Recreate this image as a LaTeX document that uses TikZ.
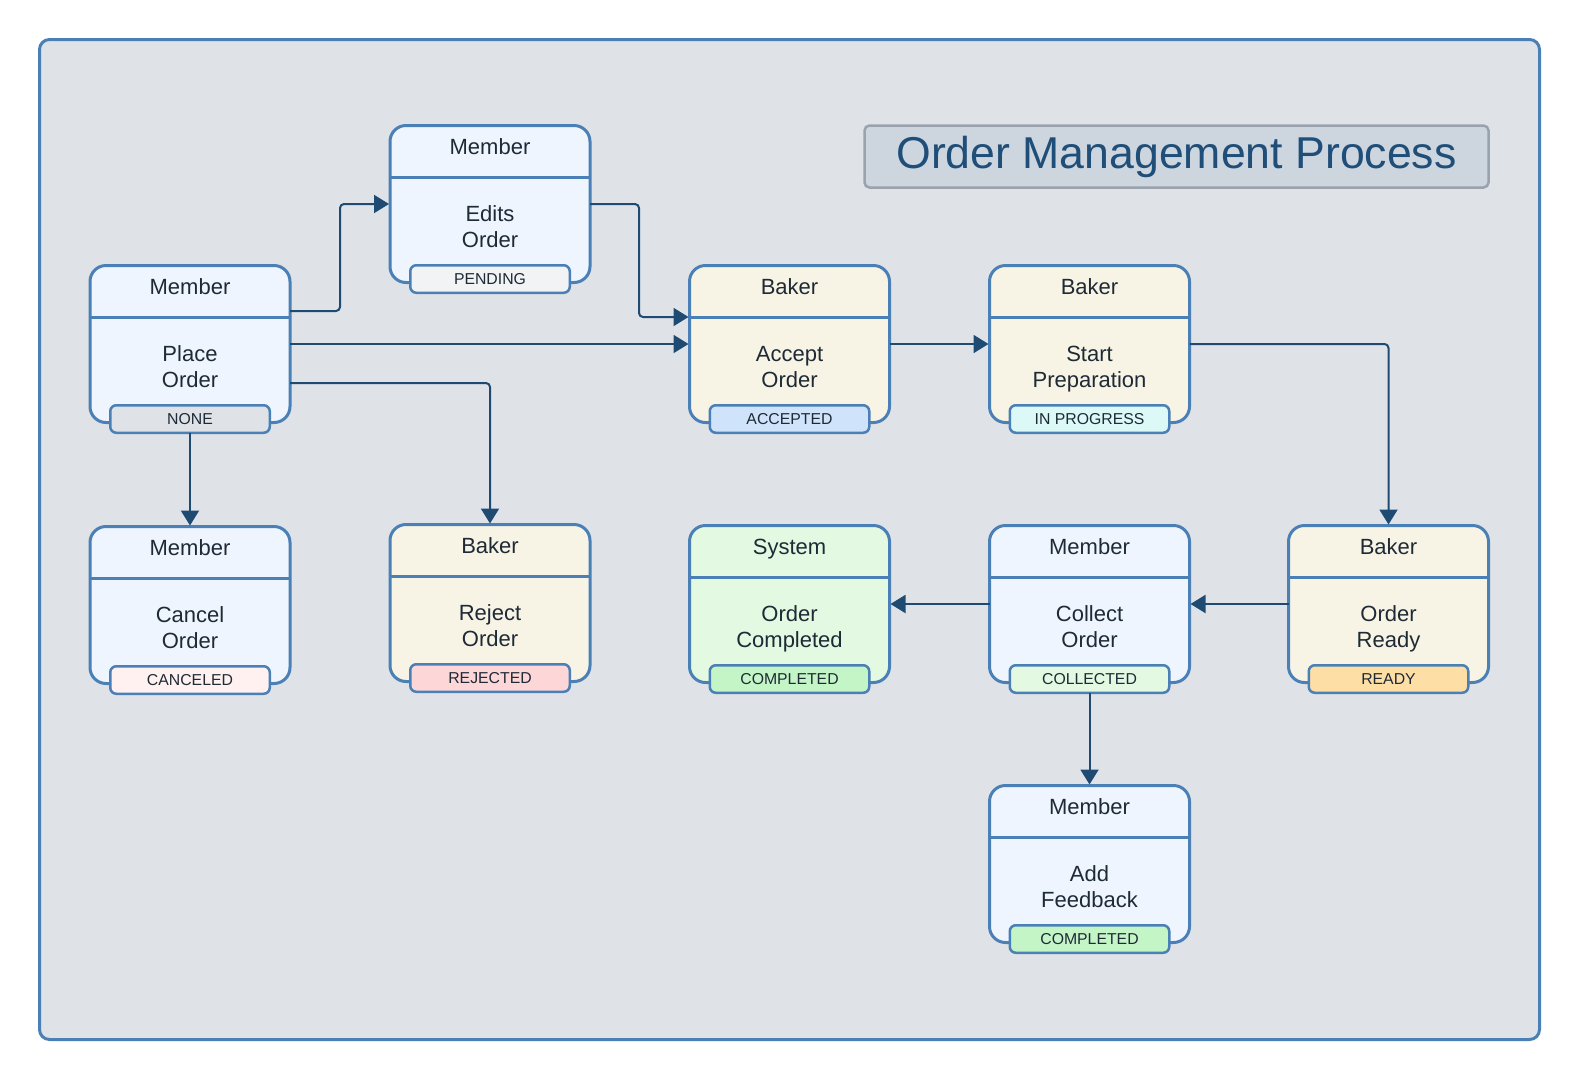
\documentclass[tikz,border=0pt]{standalone}
\usepackage{fontspec}
\setmainfont{Liberation Sans}
\usetikzlibrary{arrows.meta,calc}
\definecolor{framefill}{HTML}{DFE3E8}
\definecolor{frameline}{HTML}{4A80B5}
\definecolor{cardline}{HTML}{4A80B5}
\definecolor{memberfill}{HTML}{EEF5FE}
\definecolor{bakerfill}{HTML}{F7F4E5}
\definecolor{systemfill}{HTML}{E3F9E2}
\definecolor{txt}{HTML}{1E2A36}
\definecolor{connc}{HTML}{1F4B73}
\definecolor{titlefill}{HTML}{CDD5DE}
\definecolor{titleline}{HTML}{9AA3AD}
\definecolor{titletext}{HTML}{1F4E79}
\definecolor{bnone}{HTML}{DFE3E8}
\definecolor{bpending}{HTML}{F1F3F5}
\definecolor{baccepted}{HTML}{CFE3FA}
\definecolor{bprogress}{HTML}{DCF8F7}
\definecolor{bcanceled}{HTML}{FFF1F0}
\definecolor{brejected}{HTML}{FDD6D8}
\definecolor{bcompleted}{HTML}{C4F5C7}
\definecolor{bcollected}{HTML}{E3F9E2}
\definecolor{bready}{HTML}{FDDFA6}
\newcommand\sv{\vphantom{dy}}
\newcommand\mkcard[9]{%
  \node[card, fill=#4] (#1) at (#2,#3) {};
  \draw[cardline, line width=3pt] ($(#1.north west)+(0,51.5)$) -- ($(#1.north east)+(0,51.5)$);
  \node[hdr] (#1-h) at ($(#1.north)+(0,29.4)$) {#5};
  \node[bodytxt] (#1-b) at ($(#1.north)+(0,103.4)$) {\sv #6\\\sv #7};
  \node[badge, fill=#9] (#1-s) at ($(#1.north)+(0,153.5)$) {#8};
}
\begin{document}
\begin{tikzpicture}[x=1pt,y=-1pt,
  card/.style={draw=cardline, line width=3pt, rounded corners=16pt,
    minimum width=200pt, minimum height=157pt, inner sep=0pt, outer sep=0pt, anchor=north},
  hdr/.style={anchor=base, inner sep=0pt, text=txt, font=\fontsize{22}{26}\selectfont},
  bodytxt/.style={align=center, inner sep=0pt, text=txt, font=\fontsize{22}{26}\selectfont},
  badge/.style={draw=cardline, line width=2.5pt, rounded corners=6pt,
    minimum width=159.5pt, minimum height=27.5pt, inner sep=0pt, outer sep=0pt,
    text=txt, font=\fontsize{15.8}{18}\selectfont},
  conn/.style={draw=connc, line width=2pt, rounded corners=4pt, shorten >=1pt,
    -{Triangle[length=15pt,width=18pt]}}
]
\useasboundingbox (0,0) rectangle (1580,1080);
\fill[white] (0,0) rectangle (1580,1080);
\draw[draw=frameline, fill=framefill, line width=3pt, rounded corners=10pt]
  (39.5,39.5) rectangle (1539.5,1039.5);

\node[draw=titleline, fill=titlefill, line width=2.5pt, rounded corners=5pt,
  minimum width=624pt, minimum height=62pt, inner sep=0pt, text=titletext,
  font=\fontsize{44.6}{50}\selectfont] (title) at (1176.5,156.5) {Order Management Process};

\mkcard{place}{190}{265.5}{memberfill}{Member}{Place}{Order}{NONE}{bnone}
\mkcard{edits}{490}{125.5}{memberfill}{Member}{Edits}{Order}{PENDING}{bpending}
\mkcard{accept}{789.5}{265.5}{bakerfill}{Baker}{Accept}{Order}{ACCEPTED}{baccepted}
\mkcard{start}{1089.5}{265.5}{bakerfill}{Baker}{Start}{Preparation}{IN PROGRESS}{bprogress}
\mkcard{cancel}{190}{526.5}{memberfill}{Member}{Cancel}{Order}{CANCELED}{bcanceled}
\mkcard{reject}{490}{524.5}{bakerfill}{Baker}{Reject}{Order}{REJECTED}{brejected}
\mkcard{system}{789.5}{525.5}{systemfill}{System}{Order}{Completed}{COMPLETED}{bcompleted}
\mkcard{collect}{1089.5}{525.5}{memberfill}{Member}{Collect}{Order}{COLLECTED}{bcollected}
\mkcard{ready}{1388.5}{525.5}{bakerfill}{Baker}{Order}{Ready}{READY}{bready}
\mkcard{add}{1089.5}{785.5}{memberfill}{Member}{Add}{Feedback}{COMPLETED}{bcompleted}

\draw[conn] ($(place.east)+(0,-33)$) -- ++(50,0) |- (edits.west);
\draw[conn] (place.east) -- (accept.west);
\draw[conn] ($(place.east)+(0,39)$) -| (reject.north);
\draw[conn] (place-s.south) -- (cancel.north);
\draw[conn] (edits.east) -- ++(49,0) |- ($(accept.north west)+(0,51.5)$);
\draw[conn] (accept.east) -- (start.west);
\draw[conn] (start.east) -| (ready.north);
\draw[conn] (ready.west) -- (collect.east);
\draw[conn] (collect.west) -- (system.east);
\draw[conn] (collect-s.south) -- (add.north);
\end{tikzpicture}
\end{document}
